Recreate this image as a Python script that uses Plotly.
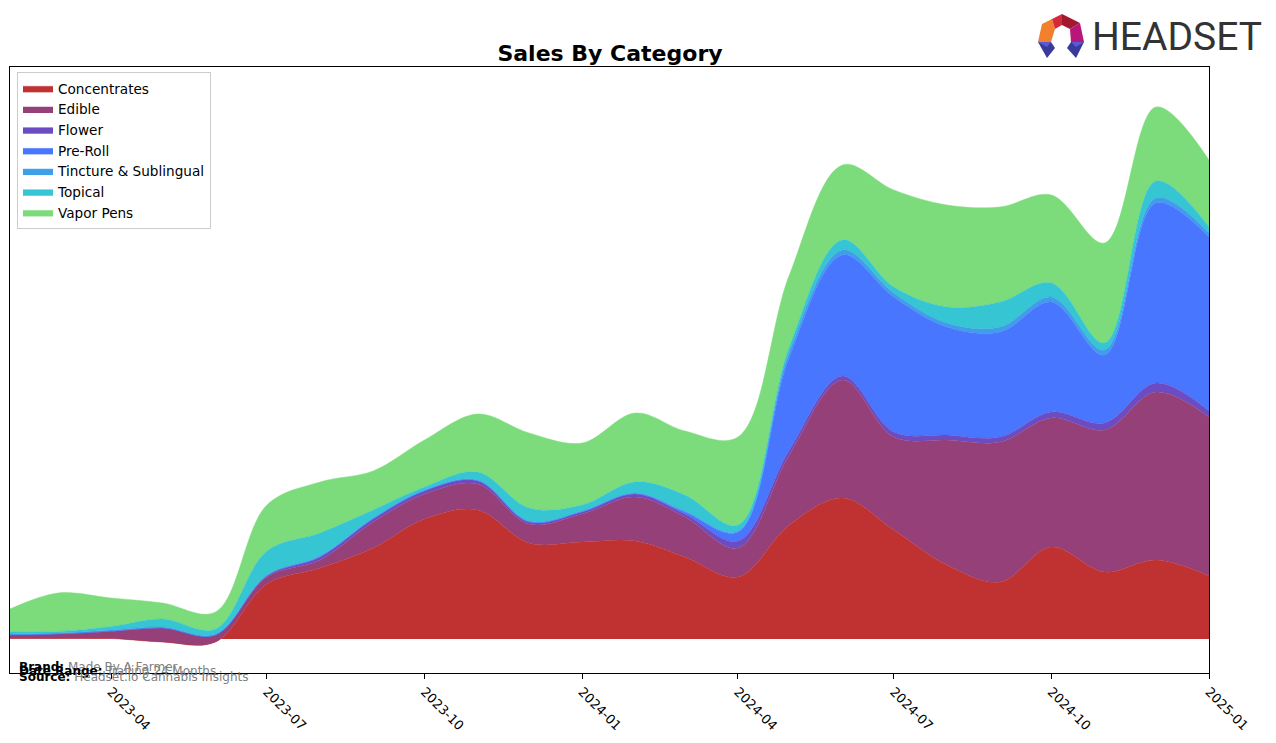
import plotly.graph_objects as go

months = ["2023-02-01", "2023-03-01", "2023-04-01", "2023-05-01", "2023-06-01", "2023-07-01",
          "2023-08-01", "2023-09-01", "2023-10-01", "2023-11-01", "2023-12-01", "2024-01-01",
          "2024-02-01", "2024-03-01", "2024-04-01", "2024-05-01", "2024-06-01", "2024-07-01",
          "2024-08-01", "2024-09-01", "2024-10-01", "2024-11-01", "2024-12-01", "2025-01-01"]

concentrates = [0.5, 0.5, 0.5, -3, -3, 55, 71, 91, 120, 129, 96, 97, 98, 82, 62, 114, 141, 109, 74, 57, 92, 67, 79, 63]
edible = [3.5, 4.5, 7, 14, 7, 7, 8, 26, 25, 26, 19, 28, 44, 40, 29, 70, 118, 93, 125, 140, 129, 142, 168, 159]
flower = [0, 0, 0.5, 0, 0, 1, 3, 3, 3, 3, 2, 2, 3, 3, 7, 5, 4, 5, 5, 5, 6, 7, 9, 6]
pre_roll = [0, 0, 0, 0, 0, 0.5, 0.5, 0.5, 0.5, 0.5, 0.5, 0.5, 0.5, 2, 9, 93, 121, 135, 108, 105, 110, 68, 180, 174]
tincture = [1, 1, 1, 1, 1, 0.5, 0.5, 0.5, 0.5, 0.5, 0.5, 0.5, 0.5, 1, 1, 5, 5, 4, 4, 5, 5, 5, 5, 4]
topical = [2, 1.5, 3.5, 8, 5, 24, 23, 8, 3, 8, 13, 6, 11, 16, 6, 5, 10, 6, 16, 25, 14, 7, 17, 6]
vapor_pens = [23, 38.5, 28.5, 16, 17, 46, 51, 39, 47, 58, 75, 62, 69, 64, 88, 72, 75, 97, 102, 95, 88, 100, 74, 67]

tick_vals = ["2023-04-01", "2023-07-01", "2023-10-01", "2024-01-01", "2024-04-01", "2024-07-01", "2024-10-01", "2025-01-01"]
tick_text = ["2023-04", "2023-07", "2023-10", "2024-01", "2024-04", "2024-07", "2024-10", "2025-01"]

series = [
    ("Concentrates", concentrates, "#C03232"),
    ("Edible", edible, "#954078"),
    ("Flower", flower, "#6B4CC3"),
    ("Pre-Roll", pre_roll, "#4876FF"),
    ("Tincture & Sublingual", tincture, "#3E9FE8"),
    ("Topical", topical, "#35C5D3"),
    ("Vapor Pens", vapor_pens, "#7CDC7C"),
]

fig = go.Figure()
for name, vals, col in series:
    fig.add_trace(go.Scatter(
        x=months, y=vals, name=name, mode="lines", stackgroup="one",
        line=dict(shape="spline", smoothing=1.0, width=0.5, color=col),
        fillcolor=col,
    ))

# pixel -> paper helpers (plot area: x 10..1209, y 67..673)
L, R, T, B = 10, 1209, 67, 673
def px(x):
    return (x - L) / (R - L)
def py(y):
    return (B - y) / (B - T)

def poly(points, color):
    d = "M " + " L ".join(f"{px(a):.5f},{py(b):.5f}" for a, b in points) + " Z"
    return dict(type="path", xref="paper", yref="paper", path=d,
                fillcolor=color, line=dict(width=0), layer="above")

shapes = [
    poly([(1038, 42), (1042, 24), (1052, 19), (1055, 29), (1051, 42)], "#F0802C"),
    poly([(1042, 24), (1062, 14), (1062, 25), (1055, 29), (1052, 19)], "#D42A3C"),
    poly([(1062, 14), (1080, 23), (1070, 29), (1062, 25)], "#A3172F"),
    poly([(1080, 23), (1084, 42), (1071, 42), (1070, 29)], "#B8177A"),
    poly([(1038, 42), (1051, 42), (1055, 48), (1047, 58)], "#3A3A9A"),
    poly([(1038, 42), (1051, 42), (1047, 47)], "#5A5AD6"),
    poly([(1071, 42), (1084, 42), (1076, 58), (1067, 48)], "#3A3A9A"),
    poly([(1071, 42), (1084, 42), (1076, 47)], "#5A5AD6"),
]

annotations = [
    dict(text="HEADSET", xref="paper", yref="paper", x=px(1090), y=py(37),
         xanchor="left", yanchor="middle", showarrow=False,
         font=dict(family="Roboto", size=39, weight=400, color="#333333")),
    dict(text="<b>Brand:</b> <span style='color:#808080'>Made By A Farmer</span>", xref="paper", yref="paper",
         x=px(17), y=py(667), xanchor="left", yanchor="middle", showarrow=False,
         font=dict(family="DejaVu Sans", size=12, color="black")),
    dict(text="<b>Date Range:</b> <span style='color:#808080'>Trailing 24 Months</span>", xref="paper", yref="paper",
         x=px(17), y=py(671), xanchor="left", yanchor="middle", showarrow=False,
         font=dict(family="DejaVu Sans", size=12, color="black")),
    dict(text="<b>Source:</b> <span style='color:#808080'>Headset.io Cannabis Insights</span>", xref="paper", yref="paper",
         x=px(17), y=py(677), xanchor="left", yanchor="middle", showarrow=False,
         font=dict(family="DejaVu Sans", size=12, color="black")),
]

fig.update_layout(
    width=1276, height=743,
    margin=dict(l=L, r=1276 - R, t=T, b=743 - B),
    paper_bgcolor="white", plot_bgcolor="white",
    font=dict(family="DejaVu Sans", size=13, color="black"),
    title=dict(text="<b>Sales By Category</b>", x=px(610), xref="paper", xanchor="center",
               y=1 - 53 / 743, yref="container", yanchor="middle",
               font=dict(family="DejaVu Sans", size=22, color="black")),
    showlegend=True,
    legend=dict(x=px(17), y=py(72), xanchor="left", yanchor="top", traceorder="normal",
                bgcolor="white", bordercolor="#CCCCCC", borderwidth=1,
                font=dict(family="DejaVu Sans", size=13.6)),
    xaxis=dict(type="date", range=[months[0], months[-1]], tickvals=tick_vals, ticktext=tick_text,
               tickangle=45, ticks="outside", ticklen=5, tickcolor="black",
               showline=True, linecolor="black", linewidth=1, mirror=True,
               showgrid=False, zeroline=False, tickfont=dict(size=13)),
    yaxis=dict(range=[-34, 572], showticklabels=False, ticks="", showline=True, linecolor="black",
               linewidth=1, mirror=True, showgrid=False, zeroline=False),
    shapes=shapes,
    annotations=annotations,
)

fig.write_html("out.html")
